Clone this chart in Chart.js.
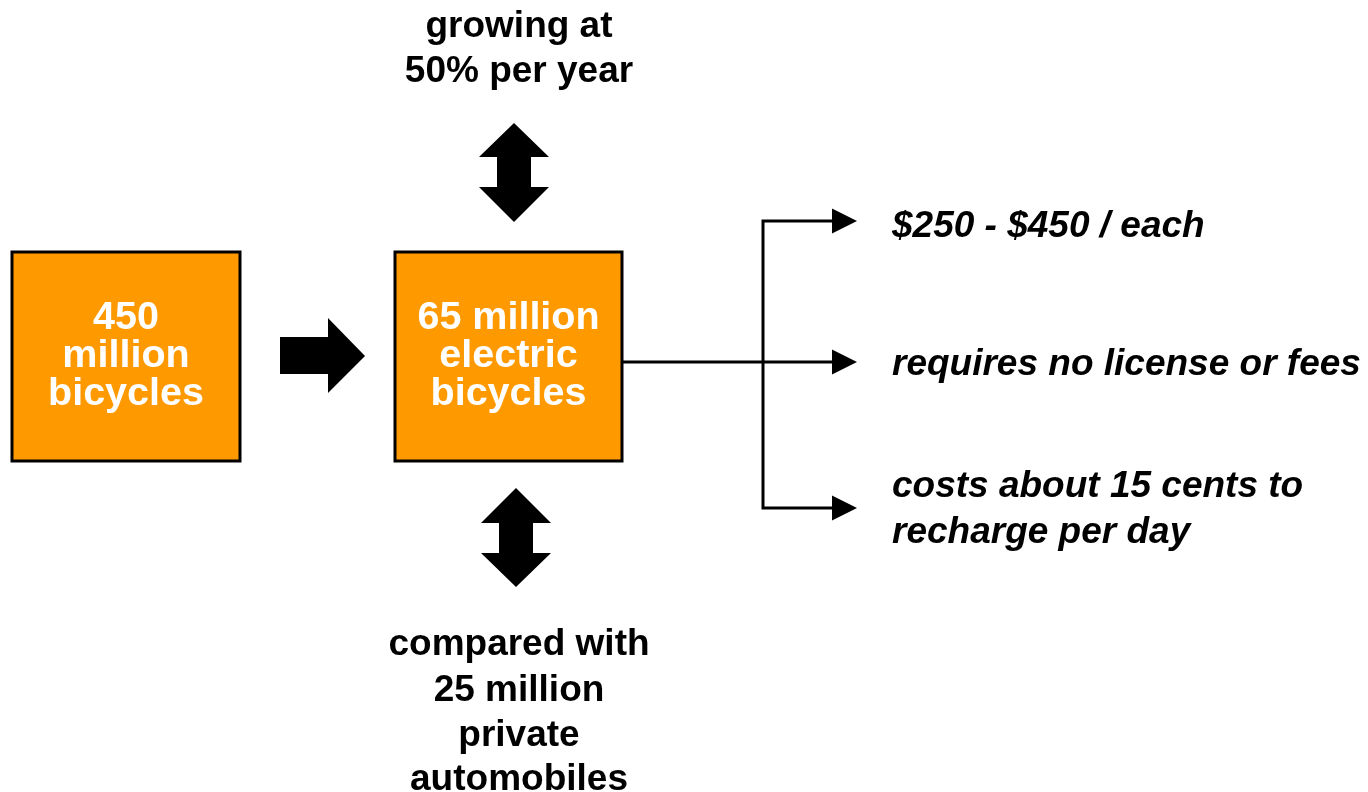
<!DOCTYPE html>
<html>
<head>
<meta charset="utf-8">
<script src="https://cdn.jsdelivr.net/npm/chart.js@4/dist/chart.umd.min.js"></script>
<style>
  html, body { margin: 0; padding: 0; background: #fff; }
  #wrap { width: 1368px; height: 792px; }
</style>
</head>
<body>
<div id="wrap"><canvas id="c" width="1368" height="792"></canvas></div>
<script>
// ---- diagram content ----
const boxLabels = [
  ['450', 'million', 'bicycles'],
  ['65 million', 'electric', 'bicycles']
];
const topNote = ['growing at', '50% per year'];
const bottomNote = ['compared with', '25 million', 'private', 'automobiles'];
const outcomes = [
  ['$250 - $450 / each'],
  ['requires no license or fees'],
  ['costs about 15 cents to', 'recharge per day']
];

// ---- layout (in scale units, 1 unit = 1 px) ----
const BOXES = [
  { x0: 12, x1: 240, y0: 252, y1: 461 },
  { x0: 395, x1: 622, y0: 252, y1: 461 }
];
const BOX_BASE = [329, 367, 405];
const TOP_NOTE = { cx: 519, base: [37, 82] };
const BOTTOM_NOTE = { cx: 519, base: [655, 701, 746, 790] };
const OUT_X = 892;
const OUT_BASE = [[237], [375], [497, 543]];
const OUT_Y = [221, 362, 508];
const TRUNK_X = 763;
const TIP_X = 857;

const ORANGE = '#FF9900';
const FONT = '"Liberation Sans", Arial, sans-serif';
const BOX_FONT = 'bold 39.5px ' + FONT;
const NOTE_FONT = 'bold 37px ' + FONT;
const OUT_FONT = 'italic bold 37px ' + FONT;

function text(ctx, s, x, y, font, align, color) {
  ctx.save();
  ctx.font = font;
  ctx.fillStyle = color;
  ctx.textAlign = align;
  ctx.textBaseline = 'alphabetic';
  ctx.fillText(s, x, y);
  ctx.restore();
}

function poly(ctx, pts) {
  ctx.beginPath();
  pts.forEach(function(p, i) { if (i) ctx.lineTo(p[0], p[1]); else ctx.moveTo(p[0], p[1]); });
  ctx.closePath();
  ctx.fill();
}

const diagramPlugin = {
  id: 'diagram',
  afterDraw(chart) {
    const ctx = chart.ctx;
    const X = v => chart.scales.x.getPixelForValue(v);
    const Y = v => chart.scales.y.getPixelForValue(v);
    const P = (a, b) => [X(a), Y(b)];

    // boxes
    BOXES.forEach(function(b, i) {
      ctx.fillStyle = ORANGE;
      ctx.fillRect(X(b.x0), Y(b.y0), X(b.x1) - X(b.x0), Y(b.y1) - Y(b.y0));
      ctx.strokeStyle = '#000';
      ctx.lineWidth = 3;
      ctx.strokeRect(X(b.x0), Y(b.y0), X(b.x1) - X(b.x0), Y(b.y1) - Y(b.y0));
      const cx = X((b.x0 + b.x1) / 2);
      boxLabels[i].forEach(function(s, j) {
        text(ctx, s, cx, Y(BOX_BASE[j]), BOX_FONT, 'center', '#fff');
      });
    });

    ctx.fillStyle = '#000';
    // block arrow between boxes
    poly(ctx, [P(280, 337), P(328, 337), P(328, 318), P(365, 356), P(328, 393), P(328, 374), P(280, 374)]);

    // double arrows above and below the centre box
    function dbl(cx, top, bot, h1, h2) {
      ctx.fillStyle = '#000';
      poly(ctx, [P(cx, top), P(cx + 35, h1), P(cx + 17, h1), P(cx + 17, h2), P(cx + 35, h2), P(cx, bot),
                 P(cx - 35, h2), P(cx - 17, h2), P(cx - 17, h1), P(cx - 35, h1)]);
    }
    dbl(514, 123, 222, 157, 187);
    dbl(516, 488, 587, 523, 553);

    // notes
    topNote.forEach(function(s, j) {
      text(ctx, s, X(TOP_NOTE.cx), Y(TOP_NOTE.base[j]), NOTE_FONT, 'center', '#000');
    });
    bottomNote.forEach(function(s, j) {
      text(ctx, s, X(BOTTOM_NOTE.cx), Y(BOTTOM_NOTE.base[j]), NOTE_FONT, 'center', '#000');
    });

    // connectors
    ctx.strokeStyle = '#000';
    ctx.lineWidth = 3;
    ctx.beginPath();
    ctx.moveTo(X(BOXES[1].x1), Y(OUT_Y[1]));
    ctx.lineTo(X(TIP_X - 24), Y(OUT_Y[1]));
    ctx.moveTo(X(TRUNK_X), Y(OUT_Y[0]));
    ctx.lineTo(X(TRUNK_X), Y(OUT_Y[2]));
    ctx.moveTo(X(TRUNK_X - 1.5), Y(OUT_Y[0]));
    ctx.lineTo(X(TIP_X - 24), Y(OUT_Y[0]));
    ctx.moveTo(X(TRUNK_X - 1.5), Y(OUT_Y[2]));
    ctx.lineTo(X(TIP_X - 24), Y(OUT_Y[2]));
    ctx.stroke();
    OUT_Y.forEach(function(y) {
      poly(ctx, [P(TIP_X - 25, y - 12.5), P(TIP_X, y), P(TIP_X - 25, y + 12.5)]);
    });

    // outcome texts
    outcomes.forEach(function(lines, i) {
      lines.forEach(function(s, j) {
        text(ctx, s, X(OUT_X), Y(OUT_BASE[i][j]), OUT_FONT, 'left', '#000');
      });
    });
  }
};

new Chart(document.getElementById('c'), {
  type: 'scatter',
  data: { datasets: [{ data: [], pointRadius: 0 }] },
  options: {
    responsive: false,
    animation: false,
    layout: { padding: 0 },
    plugins: { legend: { display: false }, tooltip: { enabled: false } },
    scales: {
      x: { type: 'linear', min: 0, max: 1368, display: false },
      y: { type: 'linear', min: 0, max: 792, reverse: true, display: false }
    }
  },
  plugins: [diagramPlugin]
});
</script>
</body>
</html>
